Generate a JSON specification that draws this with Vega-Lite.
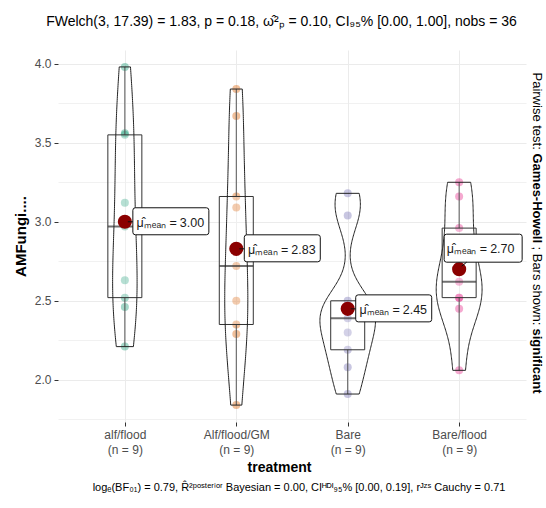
{
  "$schema": "https://vega.github.io/schema/vega-lite/v6.json",
  "width": 468,
  "height": 372,
  "autosize": "none",
  "padding": {"left": 58, "top": 50, "right": 20, "bottom": 86},
  "background": "white",
  "config": {"view": {"stroke": null}, "font": "Liberation Sans"},
  "data": {"values": [
    {"treatment": "alf/flood", "value": 3.98},
    {"treatment": "alf/flood", "value": 3.56},
    {"treatment": "alf/flood", "value": 3.55},
    {"treatment": "alf/flood", "value": 3.12},
    {"treatment": "alf/flood", "value": 2.97},
    {"treatment": "alf/flood", "value": 2.63},
    {"treatment": "alf/flood", "value": 2.52},
    {"treatment": "alf/flood", "value": 2.46},
    {"treatment": "alf/flood", "value": 2.21},
    {"treatment": "Alf/flood/GM", "value": 3.84},
    {"treatment": "Alf/flood/GM", "value": 3.67},
    {"treatment": "Alf/flood/GM", "value": 3.16},
    {"treatment": "Alf/flood/GM", "value": 3.09},
    {"treatment": "Alf/flood/GM", "value": 2.72},
    {"treatment": "Alf/flood/GM", "value": 2.50},
    {"treatment": "Alf/flood/GM", "value": 2.35},
    {"treatment": "Alf/flood/GM", "value": 2.29},
    {"treatment": "Alf/flood/GM", "value": 1.84},
    {"treatment": "Bare", "value": 3.18},
    {"treatment": "Bare", "value": 3.04},
    {"treatment": "Bare", "value": 2.50},
    {"treatment": "Bare", "value": 2.45},
    {"treatment": "Bare", "value": 2.39},
    {"treatment": "Bare", "value": 2.30},
    {"treatment": "Bare", "value": 2.19},
    {"treatment": "Bare", "value": 2.08},
    {"treatment": "Bare", "value": 1.91},
    {"treatment": "Bare/flood", "value": 3.25},
    {"treatment": "Bare/flood", "value": 3.16},
    {"treatment": "Bare/flood", "value": 2.96},
    {"treatment": "Bare/flood", "value": 2.76},
    {"treatment": "Bare/flood", "value": 2.62},
    {"treatment": "Bare/flood", "value": 2.52},
    {"treatment": "Bare/flood", "value": 2.52},
    {"treatment": "Bare/flood", "value": 2.45},
    {"treatment": "Bare/flood", "value": 2.06}
  ]},
  "resolve": {"scale": {"xOffset": "independent"}, "axis": {"x": "independent", "y": "independent"}},
  "layer": [
    {
      "mark": {"type": "circle", "size": 64, "opacity": 0.4},
      "encoding": {
        "x": {"field": "treatment", "type": "nominal", "scale": {"type": "point", "domain": ["alf/flood", "Alf/flood/GM", "Bare", "Bare/flood"], "padding": 0.6},
          "axis": {"orient": "bottom", "labelExpr": "[datum.label, '(n = 9)']", "labelAngle": 0, "labelColor": "#4D4D4D", "labelFontSize": 12, "labelLineHeight": 15, "labelPadding": 3, "tickSize": 4, "tickColor": "#333333", "domain": false, "grid": true, "gridColor": "#EBEBEB", "title": "treatment", "titleFontSize": 14, "titleFontWeight": "bold", "titleColor": "black", "titleX": 221, "titleY": 45, "titleAlign": "center", "titleBaseline": "middle"}},
        "y": {"field": "value", "type": "quantitative", "scale": {"domain": [1.733, 4.087], "nice": false, "zero": false},
          "axis": {"orient": "left", "values": [2, 2.5, 3, 3.5, 4], "format": ".1f", "labelColor": "#4D4D4D", "labelFontSize": 12, "labelPadding": 3, "tickSize": 4, "tickColor": "#333333", "domain": false, "grid": true, "gridColor": "#EBEBEB", "title": "AMFungi....", "titleFontSize": 15, "titleFontWeight": "bold", "titleColor": "black", "titleX": -38, "titleY": 186, "titleAngle": 270, "titleAlign": "center", "titleBaseline": "middle"}},
        "color": {"field": "treatment", "type": "nominal", "scale": {"domain": ["alf/flood", "Alf/flood/GM", "Bare", "Bare/flood"], "range": ["#1B9E77", "#D95F02", "#7570B3", "#E7298A"]}, "legend": null}
      }
    },
    {
      "mark": {"type": "boxplot", "size": 34, "extent": 1.5, "outliers": false,
        "box": {"fill": "#ffffff", "fillOpacity": 0.2, "stroke": "#333333", "strokeWidth": 1},
        "median": {"color": "#333333", "thickness": 2},
        "rule": {"color": "#555555", "strokeWidth": 1}},
      "encoding": {
        "x": {"field": "treatment", "type": "nominal", "scale": {"type": "point", "domain": ["alf/flood", "Alf/flood/GM", "Bare", "Bare/flood"], "padding": 0.6}, "axis": null},
        "y": {"field": "value", "type": "quantitative", "scale": {"domain": [1.733, 4.087], "nice": false, "zero": false}, "axis": null}
      }
    },
    {
      "transform": [{"filter": {"field": "treatment", "equal": "alf/flood"}}, {"density": "value", "groupby": ["treatment"], "bandwidth": 0.3477, "steps": 150}],
      "mark": {"type": "line", "color": "#222222", "strokeWidth": 1},
      "encoding": {
        "x": {"field": "treatment", "type": "nominal", "scale": {"type": "point", "domain": ["alf/flood", "Alf/flood/GM", "Bare", "Bare/flood"], "padding": 0.6}, "axis": null},
        "xOffset": {"field": "density", "type": "quantitative", "scale": {"domain": [0, 1.266], "range": [0, -27.8]}},
        "y": {"field": "value", "type": "quantitative", "scale": {"domain": [1.733, 4.087], "nice": false, "zero": false},
          "axis": {"orient": "left", "values": [1.75, 2.25, 2.75, 3.25, 3.75], "grid": true, "gridColor": "#EBEBEB", "gridWidth": 0.7, "labels": false, "ticks": false, "domain": false, "title": null}},
        "order": {"field": "value", "type": "quantitative"}
      }
    },
    {
      "transform": [{"filter": {"field": "treatment", "equal": "alf/flood"}}, {"density": "value", "groupby": ["treatment"], "bandwidth": 0.3477, "steps": 150}],
      "mark": {"type": "line", "color": "#222222", "strokeWidth": 1},
      "encoding": {
        "x": {"field": "treatment", "type": "nominal", "scale": {"type": "point", "domain": ["alf/flood", "Alf/flood/GM", "Bare", "Bare/flood"], "padding": 0.6},
          "axis": {"orient": "top", "labels": false, "ticks": false, "domain": false, "grid": false, "title": "FWelch(3, 17.39) = 1.83, p = 0.18, ω̂²ₚ = 0.10, CI₉₅% [0.00, 1.00], nobs = 36", "titleFontSize": 14, "titleFontWeight": "normal", "titleColor": "black", "titleX": 223, "titleY": -29, "titleAlign": "center", "titleBaseline": "middle"}},
        "xOffset": {"field": "density", "type": "quantitative", "scale": {"domain": [0, 1.266], "range": [0, 27.8]}},
        "y": {"field": "value", "type": "quantitative", "scale": {"domain": [1.733, 4.087], "nice": false, "zero": false}, "axis": null},
        "order": {"field": "value", "type": "quantitative"}
      }
    },
    {
      "transform": [{"filter": {"field": "treatment", "equal": "alf/flood"}}, {"density": "value", "groupby": ["treatment"], "bandwidth": 0.3477, "steps": 150},
        {"joinaggregate": [{"op": "min", "field": "value", "as": "vmin"}, {"op": "max", "field": "value", "as": "vmax"}]},
        {"filter": "datum.value <= datum.vmin || datum.value >= datum.vmax"}],
      "mark": {"type": "tick", "orient": "horizontal", "color": "#222222", "thickness": 1, "opacity": 1},
      "encoding": {
        "x": {"field": "treatment", "type": "nominal", "scale": {"type": "point", "domain": ["alf/flood", "Alf/flood/GM", "Bare", "Bare/flood"], "padding": 0.6},
          "axis": {"orient": "bottom", "labels": false, "ticks": false, "domain": false, "grid": false, "title": "logₑ(BF₀₁) = 0.79, R̂²ᵖᵒˢᵗᵉʳⁱᵒʳ Bayesian = 0.00, CIᴴᴰᴵ₉₅% [0.00, 0.19], rᴶᶻˢ Cauchy = 0.71", "titleFontSize": 11, "titleFontWeight": "normal", "titleColor": "black", "titleX": 447, "titleY": 65, "titleAlign": "right", "titleBaseline": "middle"}},
        "y": {"field": "value", "type": "quantitative", "scale": {"domain": [1.733, 4.087], "nice": false, "zero": false}, "axis": null},
        "size": {"field": "density", "type": "quantitative", "scale": {"domain": [0, 1.266], "range": [0, 55.6]}, "legend": null}
      }
    },
    {
      "transform": [{"filter": {"field": "treatment", "equal": "Alf/flood/GM"}}, {"density": "value", "groupby": ["treatment"], "bandwidth": 0.3506, "steps": 150}],
      "mark": {"type": "line", "color": "#222222", "strokeWidth": 1},
      "encoding": {
        "x": {"field": "treatment", "type": "nominal", "scale": {"type": "point", "domain": ["alf/flood", "Alf/flood/GM", "Bare", "Bare/flood"], "padding": 0.6}, "axis": null},
        "xOffset": {"field": "density", "type": "quantitative", "scale": {"domain": [0, 1.266], "range": [0, -27.8]}},
        "y": {"field": "value", "type": "quantitative", "scale": {"domain": [1.733, 4.087], "nice": false, "zero": false},
          "axis": {"orient": "right", "labels": false, "ticks": false, "domain": false, "grid": false, "title": "Pairwise test:", "titleFontSize": 13, "titleFontWeight": "normal", "titleColor": "black", "titleAngle": 90, "titleX": 10, "titleY": 22, "titleAlign": "left", "titleBaseline": "middle"}},
        "order": {"field": "value", "type": "quantitative"}
      }
    },
    {
      "transform": [{"filter": {"field": "treatment", "equal": "Alf/flood/GM"}}, {"density": "value", "groupby": ["treatment"], "bandwidth": 0.3506, "steps": 150}],
      "mark": {"type": "line", "color": "#222222", "strokeWidth": 1},
      "encoding": {
        "x": {"field": "treatment", "type": "nominal", "scale": {"type": "point", "domain": ["alf/flood", "Alf/flood/GM", "Bare", "Bare/flood"], "padding": 0.6}, "axis": null},
        "xOffset": {"field": "density", "type": "quantitative", "scale": {"domain": [0, 1.266], "range": [0, 27.8]}},
        "y": {"field": "value", "type": "quantitative", "scale": {"domain": [1.733, 4.087], "nice": false, "zero": false},
          "axis": {"orient": "right", "labels": false, "ticks": false, "domain": false, "grid": false, "title": "Games-Howell", "titleFontSize": 13, "titleFontWeight": "bold", "titleColor": "black", "titleAngle": 90, "titleX": 10, "titleY": 103, "titleAlign": "left", "titleBaseline": "middle"}},
        "order": {"field": "value", "type": "quantitative"}
      }
    },
    {
      "transform": [{"filter": {"field": "treatment", "equal": "Alf/flood/GM"}}, {"density": "value", "groupby": ["treatment"], "bandwidth": 0.3506, "steps": 150},
        {"joinaggregate": [{"op": "min", "field": "value", "as": "vmin"}, {"op": "max", "field": "value", "as": "vmax"}]},
        {"filter": "datum.value <= datum.vmin || datum.value >= datum.vmax"}],
      "mark": {"type": "tick", "orient": "horizontal", "color": "#222222", "thickness": 1, "opacity": 1},
      "encoding": {
        "x": {"field": "treatment", "type": "nominal", "scale": {"type": "point", "domain": ["alf/flood", "Alf/flood/GM", "Bare", "Bare/flood"], "padding": 0.6}, "axis": null},
        "y": {"field": "value", "type": "quantitative", "scale": {"domain": [1.733, 4.087], "nice": false, "zero": false}, "axis": null},
        "size": {"field": "density", "type": "quantitative", "scale": {"domain": [0, 1.266], "range": [0, 55.6]}, "legend": null}
      }
    },
    {
      "transform": [{"filter": {"field": "treatment", "equal": "Bare"}}, {"density": "value", "groupby": ["treatment"], "bandwidth": 0.1342, "steps": 150}],
      "mark": {"type": "line", "color": "#222222", "strokeWidth": 1},
      "encoding": {
        "x": {"field": "treatment", "type": "nominal", "scale": {"type": "point", "domain": ["alf/flood", "Alf/flood/GM", "Bare", "Bare/flood"], "padding": 0.6}, "axis": null},
        "xOffset": {"field": "density", "type": "quantitative", "scale": {"domain": [0, 1.266], "range": [0, -27.8]}},
        "y": {"field": "value", "type": "quantitative", "scale": {"domain": [1.733, 4.087], "nice": false, "zero": false},
          "axis": {"orient": "right", "labels": false, "ticks": false, "domain": false, "grid": false, "title": "; Bars shown:", "titleFontSize": 13, "titleFontWeight": "normal", "titleColor": "black", "titleAngle": 90, "titleX": 10, "titleY": 196, "titleAlign": "left", "titleBaseline": "middle"}},
        "order": {"field": "value", "type": "quantitative"}
      }
    },
    {
      "transform": [{"filter": {"field": "treatment", "equal": "Bare"}}, {"density": "value", "groupby": ["treatment"], "bandwidth": 0.1342, "steps": 150}],
      "mark": {"type": "line", "color": "#222222", "strokeWidth": 1},
      "encoding": {
        "x": {"field": "treatment", "type": "nominal", "scale": {"type": "point", "domain": ["alf/flood", "Alf/flood/GM", "Bare", "Bare/flood"], "padding": 0.6}, "axis": null},
        "xOffset": {"field": "density", "type": "quantitative", "scale": {"domain": [0, 1.266], "range": [0, 27.8]}},
        "y": {"field": "value", "type": "quantitative", "scale": {"domain": [1.733, 4.087], "nice": false, "zero": false},
          "axis": {"orient": "right", "labels": false, "ticks": false, "domain": false, "grid": false, "title": "significant", "titleFontSize": 13, "titleFontWeight": "bold", "titleColor": "black", "titleAngle": 90, "titleX": 10, "titleY": 278, "titleAlign": "left", "titleBaseline": "middle"}},
        "order": {"field": "value", "type": "quantitative"}
      }
    },
    {
      "transform": [{"filter": {"field": "treatment", "equal": "Bare"}}, {"density": "value", "groupby": ["treatment"], "bandwidth": 0.1342, "steps": 150},
        {"joinaggregate": [{"op": "min", "field": "value", "as": "vmin"}, {"op": "max", "field": "value", "as": "vmax"}]},
        {"filter": "datum.value <= datum.vmin || datum.value >= datum.vmax"}],
      "mark": {"type": "tick", "orient": "horizontal", "color": "#222222", "thickness": 1, "opacity": 1},
      "encoding": {
        "x": {"field": "treatment", "type": "nominal", "scale": {"type": "point", "domain": ["alf/flood", "Alf/flood/GM", "Bare", "Bare/flood"], "padding": 0.6}, "axis": null},
        "y": {"field": "value", "type": "quantitative", "scale": {"domain": [1.733, 4.087], "nice": false, "zero": false}, "axis": null},
        "size": {"field": "density", "type": "quantitative", "scale": {"domain": [0, 1.266], "range": [0, 55.6]}, "legend": null}
      }
    },
    {
      "transform": [{"filter": {"field": "treatment", "equal": "Bare/flood"}}, {"density": "value", "groupby": ["treatment"], "bandwidth": 0.1905, "steps": 150}],
      "mark": {"type": "line", "color": "#222222", "strokeWidth": 1},
      "encoding": {
        "x": {"field": "treatment", "type": "nominal", "scale": {"type": "point", "domain": ["alf/flood", "Alf/flood/GM", "Bare", "Bare/flood"], "padding": 0.6}, "axis": null},
        "xOffset": {"field": "density", "type": "quantitative", "scale": {"domain": [0, 1.266], "range": [0, -27.8]}},
        "y": {"field": "value", "type": "quantitative", "scale": {"domain": [1.733, 4.087], "nice": false, "zero": false}, "axis": null},
        "order": {"field": "value", "type": "quantitative"}
      }
    },
    {
      "transform": [{"filter": {"field": "treatment", "equal": "Bare/flood"}}, {"density": "value", "groupby": ["treatment"], "bandwidth": 0.1905, "steps": 150}],
      "mark": {"type": "line", "color": "#222222", "strokeWidth": 1},
      "encoding": {
        "x": {"field": "treatment", "type": "nominal", "scale": {"type": "point", "domain": ["alf/flood", "Alf/flood/GM", "Bare", "Bare/flood"], "padding": 0.6}, "axis": null},
        "xOffset": {"field": "density", "type": "quantitative", "scale": {"domain": [0, 1.266], "range": [0, 27.8]}},
        "y": {"field": "value", "type": "quantitative", "scale": {"domain": [1.733, 4.087], "nice": false, "zero": false}, "axis": null},
        "order": {"field": "value", "type": "quantitative"}
      }
    },
    {
      "transform": [{"filter": {"field": "treatment", "equal": "Bare/flood"}}, {"density": "value", "groupby": ["treatment"], "bandwidth": 0.1905, "steps": 150},
        {"joinaggregate": [{"op": "min", "field": "value", "as": "vmin"}, {"op": "max", "field": "value", "as": "vmax"}]},
        {"filter": "datum.value <= datum.vmin || datum.value >= datum.vmax"}],
      "mark": {"type": "tick", "orient": "horizontal", "color": "#222222", "thickness": 1, "opacity": 1},
      "encoding": {
        "x": {"field": "treatment", "type": "nominal", "scale": {"type": "point", "domain": ["alf/flood", "Alf/flood/GM", "Bare", "Bare/flood"], "padding": 0.6}, "axis": null},
        "y": {"field": "value", "type": "quantitative", "scale": {"domain": [1.733, 4.087], "nice": false, "zero": false}, "axis": null},
        "size": {"field": "density", "type": "quantitative", "scale": {"domain": [0, 1.266], "range": [0, 55.6]}, "legend": null}
      }
    },
    {
      "mark": {"type": "circle", "size": 200, "color": "#8B0000", "opacity": 1},
      "encoding": {
        "x": {"field": "treatment", "type": "nominal", "scale": {"type": "point", "domain": ["alf/flood", "Alf/flood/GM", "Bare", "Bare/flood"], "padding": 0.6}, "axis": null},
        "y": {"aggregate": "mean", "field": "value", "type": "quantitative", "scale": {"domain": [1.733, 4.087], "nice": false, "zero": false}, "axis": null}
      }
    },
    {
      "transform": [{"filter": {"not": {"field": "treatment", "equal": "Bare/flood"}}}],
      "mark": {"type": "point", "shape": "M0.3,0 H0.8 M1.05,-1.4 H8.15 Q8.4,-1.4 8.4,-1.15 V1.05 Q8.4,1.3 8.15,1.3 H1.05 Q0.8,1.3 0.8,1.05 V-1.15 Q0.8,-1.4 1.05,-1.4 Z", "size": 400, "fill": "white", "fillOpacity": 1, "stroke": "#111111", "strokeWidth": 1, "opacity": 1, "filled": true},
      "encoding": {
        "x": {"field": "treatment", "type": "nominal", "scale": {"type": "point", "domain": ["alf/flood", "Alf/flood/GM", "Bare", "Bare/flood"], "padding": 0.6}, "axis": null},
        "y": {"aggregate": "mean", "field": "value", "type": "quantitative", "scale": {"domain": [1.733, 4.087], "nice": false, "zero": false}, "axis": null}
      }
    },
    {
      "transform": [{"filter": {"field": "treatment", "equal": "Bare/flood"}}],
      "mark": {"type": "point", "shape": "M0.25,-0.3 L0.75,-0.7 M-1.25,-3.5 H6.05 Q6.3,-3.5 6.3,-3.25 V-0.95 Q6.3,-0.7 6.05,-0.7 H-1.25 Q-1.5,-0.7 -1.5,-0.95 V-3.25 Q-1.5,-3.5 -1.25,-3.5 Z", "size": 400, "fill": "white", "fillOpacity": 1, "stroke": "#111111", "strokeWidth": 1, "opacity": 1, "filled": true},
      "encoding": {
        "x": {"field": "treatment", "type": "nominal", "scale": {"type": "point", "domain": ["alf/flood", "Alf/flood/GM", "Bare", "Bare/flood"], "padding": 0.6}, "axis": null},
        "y": {"aggregate": "mean", "field": "value", "type": "quantitative", "scale": {"domain": [1.733, 4.087], "nice": false, "zero": false}, "axis": null}
      }
    },
    {
      "transform": [{"filter": {"not": {"field": "treatment", "equal": "Bare/flood"}}}],
      "mark": {"type": "text", "text": "μ̂ₘₑₐₙ =", "align": "right", "baseline": "middle", "dx": 52, "dy": 1, "fontSize": 12.5, "color": "#1a1a1a"},
      "encoding": {
        "x": {"field": "treatment", "type": "nominal", "scale": {"type": "point", "domain": ["alf/flood", "Alf/flood/GM", "Bare", "Bare/flood"], "padding": 0.6}, "axis": null},
        "y": {"aggregate": "mean", "field": "value", "type": "quantitative", "scale": {"domain": [1.733, 4.087], "nice": false, "zero": false}, "axis": null}
      }
    },
    {
      "transform": [{"filter": {"not": {"field": "treatment", "equal": "Bare/flood"}}}],
      "mark": {"type": "text", "align": "left", "baseline": "middle", "dx": 55, "dy": 1, "fontSize": 12.5, "color": "#1a1a1a"},
      "encoding": {
        "x": {"field": "treatment", "type": "nominal", "scale": {"type": "point", "domain": ["alf/flood", "Alf/flood/GM", "Bare", "Bare/flood"], "padding": 0.6}, "axis": null},
        "y": {"aggregate": "mean", "field": "value", "type": "quantitative", "scale": {"domain": [1.733, 4.087], "nice": false, "zero": false}, "axis": null},
        "text": {"aggregate": "mean", "field": "value", "type": "quantitative", "format": ".2f"}
      }
    },
    {
      "transform": [{"filter": {"field": "treatment", "equal": "Bare/flood"}}],
      "mark": {"type": "text", "text": "μ̂ₘₑₐₙ =", "align": "right", "baseline": "middle", "dx": 28, "dy": -20, "fontSize": 12.5, "color": "#1a1a1a"},
      "encoding": {
        "x": {"field": "treatment", "type": "nominal", "scale": {"type": "point", "domain": ["alf/flood", "Alf/flood/GM", "Bare", "Bare/flood"], "padding": 0.6}, "axis": null},
        "y": {"aggregate": "mean", "field": "value", "type": "quantitative", "scale": {"domain": [1.733, 4.087], "nice": false, "zero": false}, "axis": null}
      }
    },
    {
      "transform": [{"filter": {"field": "treatment", "equal": "Bare/flood"}}],
      "mark": {"type": "text", "align": "left", "baseline": "middle", "dx": 31, "dy": -20, "fontSize": 12.5, "color": "#1a1a1a"},
      "encoding": {
        "x": {"field": "treatment", "type": "nominal", "scale": {"type": "point", "domain": ["alf/flood", "Alf/flood/GM", "Bare", "Bare/flood"], "padding": 0.6}, "axis": null},
        "y": {"aggregate": "mean", "field": "value", "type": "quantitative", "scale": {"domain": [1.733, 4.087], "nice": false, "zero": false}, "axis": null},
        "text": {"aggregate": "mean", "field": "value", "type": "quantitative", "format": ".2f"}
      }
    }
  ]
}
